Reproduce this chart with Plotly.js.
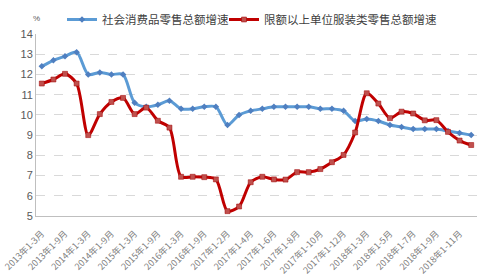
<!DOCTYPE html>
<html>
<head>
<meta charset="utf-8">
<script src="https://cdn.plot.ly/plotly-3.0.1.min.js"></script>
<style>html,body{margin:0;padding:0;background:#fff}#chart{width:491px;height:280px}</style>
</head>
<body>
<div id="chart"></div>
<script>
var categories = [
  "2013年1-3月","2013年1-6月","2013年1-9月","2013年1-12月",
  "2014年1-3月","2014年1-6月","2014年1-9月","2014年1-12月",
  "2015年1-3月","2015年1-6月","2015年1-9月","2015年1-12月",
  "2016年1-3月","2016年1-6月","2016年1-9月","2016年1-12月",
  "2017年1-2月","2017年1-3月","2017年1-4月","2017年1-5月","2017年1-6月","2017年1-7月",
  "2017年1-8月","2017年1-9月","2017年1-10月","2017年1-11月","2017年1-12月",
  "2018年1-2月","2018年1-3月","2018年1-4月","2018年1-5月","2018年1-6月","2018年1-7月",
  "2018年1-8月","2018年1-9月","2018年1-10月","2018年1-11月","2018年1-12月"
];
var tickLabels = [
  "2013年1-3月","2013年1-9月","2014年1-3月","2014年1-9月","2015年1-3月","2015年1-9月",
  "2016年1-3月","2016年1-9月","2017年1-2月","2017年1-4月","2017年1-6月","2017年1-8月",
  "2017年1-10月","2017年1-12月","2018年1-3月","2018年1-5月","2018年1-7月","2018年1-9月","2018年1-11月"
];
var seriesNames = ["社会消费品零售总额增速","限额以上单位服装类零售总额增速"];
var retailGrowth = [
  12.4,12.7,12.9,13.1,
  12.0,12.1,12.0,12.0,
  10.6,10.4,10.5,10.7,
  10.3,10.3,10.4,10.4,
  9.5,10.0,10.2,10.3,10.4,10.4,10.4,10.4,10.3,10.3,10.2,
  9.7,9.8,9.7,9.5,9.4,9.3,9.3,9.3,9.2,9.1,9.0
];
var apparelGrowth = [
  11.55,11.75,12.03,11.55,
  9.0,10.04,10.64,10.84,
  10.04,10.36,9.71,9.37,
  6.94,6.94,6.92,6.81,
  5.24,5.47,6.67,6.94,6.81,6.80,7.17,7.17,7.32,7.66,8.02,
  9.13,11.07,10.56,9.84,10.16,10.07,9.73,9.74,9.16,8.73,8.51
];
var yTicks = [5,6,7,8,9,10,11,12,13,14];

var fontFam = "Liberation Sans, Arial, Noto Sans CJK SC, sans-serif";
var legendFont = {size: 11.5, color: "#404040", family: "Noto Sans CJK SC, sans-serif"};
var traces = [
  {
    x: categories, y: retailGrowth, name: seriesNames[0], type: "scatter", mode: "lines+markers",
    legend: "legend",
    line: {color: "#5b9bd5", width: 3, shape: "spline", smoothing: 0.8},
    marker: {symbol: "diamond", size: 5, color: "#4f7fc0"}
  },
  {
    x: categories, y: apparelGrowth, name: seriesNames[1], type: "scatter", mode: "lines+markers",
    legend: "legend2",
    line: {color: "#c00000", width: 3, shape: "spline", smoothing: 0.8},
    marker: {symbol: "square", size: 5, color: "#c0504d", line: {color: "#a00000", width: 0.5}}
  }
];
var layout = {
  width: 491, height: 280,
  margin: {l: 36, r: 14, t: 22, b: 64},
  paper_bgcolor: "#fff", plot_bgcolor: "#fff",
  font: {family: fontFam, color: "#595959"},
  showlegend: true,
  legend: {
    orientation: "h", xref: "container", yref: "container",
    x: 62/491, y: 1 - 5/280, xanchor: "left", yanchor: "top",
    font: legendFont, bgcolor: "rgba(0,0,0,0)"
  },
  legend2: {
    orientation: "h", xref: "container", yref: "container",
    x: 224/491, y: 1 - 5/280, xanchor: "left", yanchor: "top",
    font: legendFont, bgcolor: "rgba(0,0,0,0)"
  },
  xaxis: {
    type: "category", range: [-0.5, categories.length - 0.5],
    tickmode: "array", tickvals: tickLabels, ticktext: tickLabels,
    tickangle: -45, tickfont: {size: 9, color: "#7f7f7f", family: "Noto Sans CJK SC, sans-serif"},
    ticklabelstandoff: 8,
    showgrid: false, showline: true, linecolor: "#bfbfbf", linewidth: 1,
    ticks: "", zeroline: false
  },
  yaxis: {
    range: [5, 14], tickmode: "array", tickvals: yTicks,
    tickfont: {size: 11, color: "#595959"},
    showgrid: true, gridcolor: "#d9d9d9", griddash: "dash", gridwidth: 1,
    showline: true, linecolor: "#bfbfbf", linewidth: 1,
    ticks: "", zeroline: false
  },
  annotations: [
    {text: "%", xref: "paper", yref: "paper", x: -0.012, y: 1.05, xanchor: "left", yanchor: "bottom",
     showarrow: false, font: {size: 8, color: "#595959"}}
  ]
};
Plotly.newPlot("chart", traces, layout, {displayModeBar: false, staticPlot: true});
</script>
</body>
</html>
